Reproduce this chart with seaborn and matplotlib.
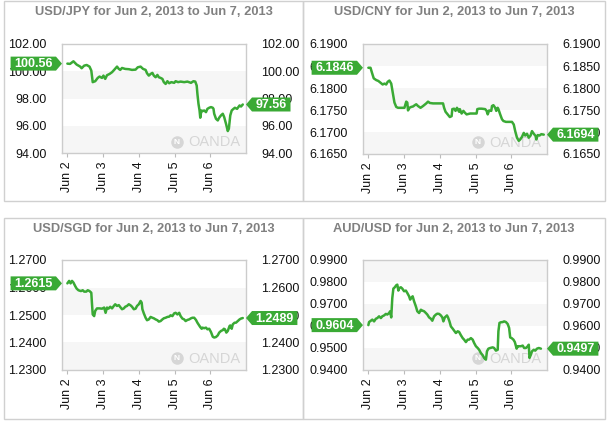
import numpy as np
import pandas as pd
import matplotlib
matplotlib.use("Agg")
import matplotlib.pyplot as plt
import seaborn as sns
from matplotlib.patches import Rectangle, Polygon
from matplotlib.transforms import ScaledTranslation

# ---------------- data (time in days since Jun 2, 00:00) ----------------
day_labels = ["Jun 2", "Jun 3", "Jun 4", "Jun 5", "Jun 6"]
day_ticks = [0, 1, 2, 3, 4]

jpy_t = [0.00, 0.075, 0.17, 0.26, 0.36, 0.40, 0.47, 0.54, 0.62, 0.67, 0.71, 0.78, 0.85, 0.90, 0.97,
         1.01, 1.06, 1.11, 1.18, 1.25, 1.31, 1.39, 1.44, 1.48, 1.53, 1.62, 1.72, 1.81, 1.91, 1.97,
         2.05, 2.12, 2.19, 2.23, 2.28, 2.33, 2.38, 2.42, 2.47, 2.52, 2.56, 2.61, 2.66, 2.70, 2.75,
         2.80, 2.85, 2.91, 2.99, 3.03, 3.10, 3.17, 3.27, 3.36, 3.46, 3.53, 3.58, 3.62, 3.64, 3.67,
         3.70, 3.72, 3.75, 3.78, 3.83, 3.88, 3.92, 3.97, 4.02, 4.07, 4.09, 4.11, 4.16, 4.21, 4.25,
         4.30, 4.35, 4.39, 4.44, 4.49, 4.52, 4.54, 4.56, 4.60, 4.65, 4.69, 4.75, 4.82, 4.86, 4.91]
jpy_v = [100.56, 100.54, 100.73, 100.49, 100.34, 100.22, 100.41, 100.46, 100.34, 100.05, 99.20, 99.27,
         99.51, 99.61, 99.51, 99.68, 99.44, 99.71, 99.80, 99.93, 100.10, 100.34, 100.17, 100.10, 100.24,
         100.17, 100.15, 100.10, 100.12, 100.29, 100.34, 100.17, 100.10, 99.85, 99.68, 99.80, 99.88,
         99.68, 99.56, 99.73, 99.56, 99.51, 99.44, 99.20, 99.07, 99.27, 99.12, 99.20, 99.15, 99.27,
         99.20, 99.24, 99.20, 99.24, 99.15, 99.27, 99.24, 98.95, 98.34, 97.61, 97.12, 96.59, 97.12,
         97.07, 97.12, 97.00, 97.24, 97.32, 97.37, 97.32, 97.24, 96.88, 96.51, 96.39, 96.59, 96.76,
         96.88, 96.63, 96.15, 95.61, 95.78, 96.27, 96.76, 97.12, 97.24, 97.32, 97.24, 97.49, 97.41, 97.56]

cny_t = [0.00, 0.06, 0.10, 0.15, 0.22, 0.28, 0.34, 0.40, 0.45, 0.50, 0.54, 0.59, 0.64, 0.69, 0.73,
         0.78, 0.83, 0.92, 1.01, 1.06, 1.09, 1.11, 1.15, 1.20, 1.25, 1.30, 1.34, 1.39, 1.46, 1.53,
         1.62, 1.67, 1.72, 1.81, 1.91, 2.00, 2.09, 2.12, 2.16, 2.22, 2.28, 2.33, 2.35, 2.40, 2.44,
         2.48, 2.54, 2.56, 2.61, 2.66, 2.70, 2.75, 2.85, 2.94, 3.03, 3.05, 3.10, 3.17, 3.27, 3.31,
         3.34, 3.38, 3.44, 3.46, 3.50, 3.55, 3.58, 3.62, 3.64, 3.69, 3.74, 3.78, 3.85, 3.92, 4.02,
         4.07, 4.11, 4.16, 4.21, 4.25, 4.30, 4.35, 4.39, 4.44, 4.49, 4.54, 4.58, 4.63, 4.68, 4.70,
         4.74, 4.79, 4.84, 4.91]
cny_v = [6.1846, 6.1846, 6.1835, 6.1822, 6.1818, 6.1816, 6.1812, 6.1808, 6.1810, 6.1808, 6.1814,
         6.1817, 6.1810, 6.1786, 6.1767, 6.1757, 6.1755, 6.1755, 6.1755, 6.1769, 6.1767, 6.1749,
         6.1755, 6.1757, 6.1758, 6.1761, 6.1763, 6.1759, 6.1755, 6.1759, 6.1765, 6.1769, 6.1766,
         6.1765, 6.1765, 6.1765, 6.1765, 6.1755, 6.1746, 6.1740, 6.1734, 6.1736, 6.1752, 6.1753,
         6.1748, 6.1755, 6.1746, 6.1752, 6.1742, 6.1748, 6.1744, 6.1740, 6.1742, 6.1742, 6.1742,
         6.1752, 6.1753, 6.1753, 6.1752, 6.1748, 6.1740, 6.1749, 6.1748, 6.1759, 6.1761, 6.1755,
         6.1748, 6.1755, 6.1752, 6.1740, 6.1729, 6.1725, 6.1723, 6.1723, 6.1723, 6.1717, 6.1702,
         6.1687, 6.1680, 6.1683, 6.1689, 6.1698, 6.1692, 6.1696, 6.1687, 6.1692, 6.1702, 6.1696,
         6.1691, 6.1683, 6.1693, 6.1692, 6.1695, 6.1694]

sgd_t = [0.00, 0.05, 0.09, 0.13, 0.17, 0.22, 0.26, 0.31, 0.38, 0.43, 0.47, 0.53, 0.57, 0.62, 0.67,
         0.69, 0.71, 0.75, 0.78, 0.83, 0.90, 0.97, 1.03, 1.07, 1.11, 1.15, 1.20, 1.25, 1.30, 1.34,
         1.39, 1.44, 1.48, 1.53, 1.58, 1.62, 1.67, 1.72, 1.77, 1.81, 1.86, 1.91, 1.95, 2.00, 2.05,
         2.08, 2.10, 2.14, 2.19, 2.23, 2.28, 2.33, 2.38, 2.42, 2.47, 2.52, 2.56, 2.61, 2.66, 2.70,
         2.75, 2.80, 2.85, 2.89, 2.94, 2.99, 3.03, 3.08, 3.13, 3.17, 3.22, 3.27, 3.31, 3.36, 3.41,
         3.46, 3.50, 3.55, 3.60, 3.64, 3.69, 3.72, 3.76, 3.78, 3.83, 3.88, 3.92, 3.97, 4.02, 4.07,
         4.11, 4.16, 4.21, 4.25, 4.30, 4.35, 4.38, 4.41, 4.45, 4.49, 4.54, 4.56, 4.60, 4.63, 4.68,
         4.72, 4.77, 4.82, 4.86, 4.91]
sgd_v = [1.2615, 1.2624, 1.2615, 1.2624, 1.2618, 1.2605, 1.2596, 1.2590, 1.2587, 1.2590, 1.2585,
         1.2585, 1.2590, 1.2587, 1.2581, 1.2539, 1.2502, 1.2496, 1.2515, 1.2524, 1.2524, 1.2523,
         1.2527, 1.2508, 1.2527, 1.2523, 1.2530, 1.2524, 1.2533, 1.2539, 1.2533, 1.2536, 1.2529,
         1.2521, 1.2524, 1.2530, 1.2533, 1.2539, 1.2535, 1.2530, 1.2521, 1.2523, 1.2533, 1.2539,
         1.2551, 1.2545, 1.2521, 1.2506, 1.2490, 1.2481, 1.2484, 1.2493, 1.2490, 1.2488, 1.2484,
         1.2481, 1.2476, 1.2478, 1.2484, 1.2488, 1.2490, 1.2493, 1.2494, 1.2499, 1.2496, 1.2506,
         1.2508, 1.2502, 1.2508, 1.2496, 1.2487, 1.2484, 1.2478, 1.2482, 1.2484, 1.2488, 1.2490,
         1.2490, 1.2482, 1.2472, 1.2462, 1.2456, 1.2450, 1.2454, 1.2452, 1.2454, 1.2448, 1.2450,
         1.2438, 1.2421, 1.2418, 1.2420, 1.2426, 1.2436, 1.2442, 1.2445, 1.2450, 1.2448, 1.2436,
         1.2442, 1.2460, 1.2462, 1.2450, 1.2466, 1.2472, 1.2472, 1.2478, 1.2484, 1.2487, 1.2489]

aud_t = [0.00, 0.02, 0.07, 0.11, 0.16, 0.21, 0.25, 0.30, 0.35, 0.39, 0.44, 0.49, 0.53, 0.58, 0.61,
         0.64, 0.67, 0.70, 0.74, 0.78, 0.81, 0.84, 0.87, 0.91, 0.95, 1.00, 1.05, 1.09, 1.14, 1.17,
         1.21, 1.24, 1.28, 1.33, 1.37, 1.42, 1.47, 1.51, 1.56, 1.61, 1.65, 1.70, 1.75, 1.79, 1.84,
         1.89, 1.93, 1.98, 2.03, 2.07, 2.10, 2.14, 2.20, 2.23, 2.27, 2.31, 2.36, 2.40, 2.45, 2.50,
         2.54, 2.59, 2.64, 2.68, 2.73, 2.78, 2.82, 2.87, 2.92, 2.96, 3.01, 3.06, 3.10, 3.15, 3.20,
         3.24, 3.29, 3.32, 3.36, 3.41, 3.48, 3.52, 3.57, 3.62, 3.64, 3.67, 3.71, 3.76, 3.80, 3.85,
         3.90, 3.94, 3.97, 4.01, 4.06, 4.10, 4.15, 4.18, 4.22, 4.27, 4.32, 4.36, 4.41, 4.46, 4.49,
         4.51, 4.55, 4.58, 4.63, 4.67, 4.72, 4.77, 4.83]
aud_v = [0.9604, 0.9618, 0.9624, 0.9629, 0.9621, 0.9633, 0.9636, 0.9644, 0.9636, 0.9644, 0.9648,
         0.9655, 0.9652, 0.9659, 0.9667, 0.9639, 0.9727, 0.9770, 0.9776, 0.9785, 0.9788, 0.9761,
         0.9773, 0.9776, 0.9770, 0.9758, 0.9761, 0.9750, 0.9735, 0.9720, 0.9730, 0.9735, 0.9712,
         0.9689, 0.9667, 0.9659, 0.9674, 0.9670, 0.9667, 0.9659, 0.9652, 0.9639, 0.9633, 0.9624,
         0.9644, 0.9652, 0.9656, 0.9655, 0.9648, 0.9639, 0.9621, 0.9639, 0.9648, 0.9639, 0.9621,
         0.9598, 0.9588, 0.9579, 0.9568, 0.9576, 0.9573, 0.9558, 0.9545, 0.9538, 0.9527, 0.9538,
         0.9538, 0.9545, 0.9538, 0.9523, 0.9508, 0.9500, 0.9492, 0.9477, 0.9467, 0.9455, 0.9447,
         0.9485, 0.9497, 0.9500, 0.9503, 0.9500, 0.9488, 0.9492, 0.9576, 0.9614, 0.9617, 0.9618,
         0.9621, 0.9618, 0.9609, 0.9591, 0.9548, 0.9545, 0.9538, 0.9527, 0.9497, 0.9508, 0.9508,
         0.9508, 0.9511, 0.9500, 0.9500, 0.9508, 0.9515, 0.9455, 0.9470, 0.9485, 0.9492, 0.9488,
         0.9497, 0.9500, 0.9497]

titles = ["USD/JPY for Jun 2, 2013 to Jun 7, 2013", "USD/CNY for Jun 2, 2013 to Jun 7, 2013",
          "USD/SGD for Jun 2, 2013 to Jun 7, 2013", "AUD/USD for Jun 2, 2013 to Jun 7, 2013"]
y_ranges = [(94.0, 102.0, 2.0), (6.1650, 6.1900, 0.0050), (1.2300, 1.2700, 0.0100), (0.9400, 0.9900, 0.0100)]
decimals = [2, 4, 4, 4]

# ---------------- style ----------------
W, H = 607, 424
GREEN = "#3aaa35"
BAND = "#f6f6f6"
FRAME = "#cccccc"

sns.set_theme(style="white")
plt.rcParams["font.family"] = ["Liberation Sans", "DejaVu Sans"]

fig = plt.figure(figsize=(W / 100, H / 100), dpi=100)

# panel boxes (pixels: x0, y0_top, x1, y1_bottom)
panel_boxes = [(4, 1, 303, 201), (303, 1, 605, 201), (4, 218, 303, 419), (303, 218, 605, 419)]
axes_px = [(62, 44, 246, 153), (363, 44, 547, 154), (62, 260, 246, 370), (363, 260, 547, 370)]
title_y = [12, 229]


def fx(px):
    return px / W


def fy(py):
    return 1 - py / H


for (x0, y0, x1, y1) in panel_boxes:
    fig.add_artist(Rectangle((fx(x0), fy(y1)), fx(x1 - x0), (y1 - y0) / H,
                             transform=fig.transFigure, fill=False, ec="#d0d0d0", lw=1.0))


def tag(ax, yval, text, side):
    w = 6.9 * len(text) + 4
    a = 6
    h = 7
    if side == "left":
        verts = [(0, 0), (-a, h), (-a - w, h), (-a - w, -h), (-a, -h)]
        cx = -a - w / 2
        xa = 0
    else:
        verts = [(0, 0), (a, h), (a + w, h), (a + w, -h), (a, -h)]
        cx = a + w / 2
        xa = 1
    trans = ScaledTranslation(xa, yval, ax.get_yaxis_transform())
    ax.add_artist(Polygon(verts, closed=True, transform=trans, fc=GREEN, ec="none",
                          clip_on=False, zorder=10))
    ax.text(cx, -0.5, text, transform=trans, ha="center", va="center", color="white",
            fontsize=9, fontweight="bold", clip_on=False, zorder=11)


series = [(jpy_t, jpy_v), (cny_t, cny_v), (sgd_t, sgd_v), (aud_t, aud_v)]

for i, ((t, v), title, (lo, hi, step), dec, (ax0, ay0, ax1, ay1)) in enumerate(
        zip(series, titles, y_ranges, decimals, axes_px)):
    ax = fig.add_axes([fx(ax0), fy(ay1), fx(ax1 - ax0), (ay1 - ay0) / H])
    ax.set_facecolor("white")
    nb = int(round((hi - lo) / step))
    for k in range(nb):
        if k % 2 == 0:
            ax.axhspan(lo + k * step, lo + (k + 1) * step, color=BAND, lw=0, zorder=0)
    df = pd.DataFrame({"t": t, "v": v})
    sns.lineplot(data=df, x="t", y="v", ax=ax, color=GREEN, linewidth=1.8,
                 estimator=None, sort=False, zorder=3)
    ax.set_xlim(-0.15, 5.0)
    ax.set_ylim(lo, hi)
    yt = [lo + k * step for k in range(nb + 1)]
    ax.set_yticks(yt)
    ax.set_yticklabels([f"{y:.{dec}f}" for y in yt])
    ax.set_xticks(day_ticks)
    ax.set_xticklabels(day_labels, rotation=90)
    ax.set_xlabel("")
    ax.set_ylabel("")
    ax.tick_params(axis="y", which="both", left=False, right=False, labelleft=True,
                   labelright=True, labelsize=9, labelcolor="#111111", pad=5)
    ax.tick_params(axis="x", bottom=True, length=3, width=0.8, color="#bbbbbb",
                   labelsize=9, labelcolor="#111111", pad=3)
    for s in ax.spines.values():
        s.set_visible(True)
        s.set_color(FRAME)
        s.set_linewidth(1.0)
    # watermark
    ax.plot([0.625], [0.105], marker="o", ms=9, color="#d6d6d6", mec="none",
            transform=ax.transAxes, zorder=1)
    ax.text(0.625, 0.1, "N", transform=ax.transAxes, ha="center", va="center",
            color="white", fontsize=6, fontweight="bold", zorder=2)
    ax.text(0.97, 0.1, "OANDA", transform=ax.transAxes, ha="right", va="center",
            color="#d6d6d6", fontsize=10.5, zorder=1)
    # value tags
    tag(ax, v[0], f"{v[0]:.{dec}f}", "left")
    tag(ax, v[-1], f"{v[-1]:.{dec}f}", "right")
    # title
    bx0, by0, bx1, by1 = panel_boxes[i]
    fig.text(fx((bx0 + bx1) / 2), fy(title_y[i // 2]), title, ha="center", va="center",
             fontsize=9.3, fontweight="bold", color="#808080")

fig.savefig("out.png", dpi=100)
